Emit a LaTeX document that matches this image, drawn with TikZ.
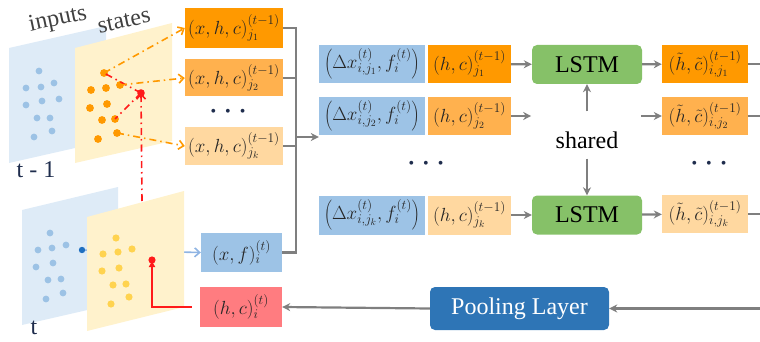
\RequirePackage{fix-cm}
\documentclass[tikz,border=0pt]{standalone}
\usepackage{fontspec}
\setmainfont{Liberation Serif}
\usetikzlibrary{arrows.meta}

\definecolor{orA}{HTML}{FF9900}
\definecolor{orB}{HTML}{FFB14E}
\definecolor{orC}{HTML}{FFD8A0}
\definecolor{blA}{HTML}{9DC3E6}
\definecolor{rdA}{HTML}{FF7C80}
\definecolor{grA}{HTML}{86C168}
\definecolor{poolA}{HTML}{2E75B6}
\definecolor{planeB}{HTML}{DEEBF7}
\definecolor{planeY}{HTML}{FFF2CC}
\definecolor{dotB}{HTML}{9CC2E5}
\definecolor{dotO}{HTML}{FF9900}
\definecolor{dotY}{HTML}{FFD34F}
\definecolor{dotN}{HTML}{1F6FC0}
\definecolor{lineG}{HTML}{7F7F7F}
\definecolor{txtA}{HTML}{262626}
\definecolor{navy}{HTML}{1F2D4D}
\definecolor{lblG}{HTML}{404040}
\definecolor{redA}{HTML}{FF1A1A}
\definecolor{arB}{HTML}{8FB4E3}

\begin{document}
\begin{tikzpicture}[x=1pt,y=-1pt,
  bx/.style={inner sep=0pt, text=txtA, font=\fontsize{19}{19}\selectfont},
  sz/.style 2 args={minimum width=#1pt, minimum height=#2pt},
  lstm/.style={fill=grA, rounded corners=5pt, inner sep=0pt, minimum width=110pt,
    minimum height=39pt, font=\fontsize{24}{24}\selectfont, text=black},
  pool/.style={fill=poolA, rounded corners=5pt, inner sep=0pt, minimum width=179pt,
    minimum height=43pt, font=\fontsize{24}{24}\selectfont, text=white},
  lbl/.style={font=\fontsize{24}{24}\selectfont, text=lblG, inner sep=0pt},
  dots/.style={font=\fontsize{16}{16}\selectfont, text=navy, inner sep=0pt},
  gl/.style={draw=lineG, line width=2.2pt},
  ga/.style={gl, -{Stealth[length=8pt, width=8pt]}},
  odash/.style={draw=orA, line width=1.6pt, dash pattern=on 7pt off 4pt on 1.5pt off 4pt,
    -{Straight Barb[length=5pt, width=9pt]}},
  rdash/.style={draw=redA, line width=1.6pt, dash pattern=on 7pt off 4pt on 1.5pt off 4pt},
  ptB/.style={fill=dotB, draw=none},
  ptO/.style={fill=dotO, draw=none},
  ptY/.style={fill=dotY, draw=none}]

\useasboundingbox (0,0) rectangle (760,342);

% ---------- time step t-1: inputs and states planes ----------
\fill[planeB] (9,48) -- (106,26) -- (106,141) -- (9,163) -- cycle;
\foreach \p in {(39,71),(26,88),(41,87),(54,83),(26,105),(42,101),(59,99),(37,118),(50,118),(34,137),(52,131)}
  \fill[ptB] \p circle (3.4pt);
\fill[planeY] (75,48) -- (172,23) -- (172,141) -- (75,163) -- cycle;
\foreach \p in {(91,90),(106,88),(90,108),(107,104),(102,120),(98,139)}
  \fill[ptO] \p circle (3.9pt);
\coordinate (nA) at (104,73);
\coordinate (nB) at (120,85);
\coordinate (nD) at (115,119);
\coordinate (nC) at (117,133);
\foreach \c in {nA,nB,nD,nC}
  \fill[ptO] (\c) circle (3.9pt);
\coordinate (rq) at (141,93);

\node[lbl, rotate=12] (lin) at (58,20) {inputs};
\node[lbl, rotate=12] (lst) at (124,21) {states};
\node[lbl, text=navy] (ltm) at (36,170) {t - 1};

% ---------- time step t ----------
\fill[planeB] (22,210) -- (118,187) -- (118,303) -- (22,325) -- cycle;
\foreach \p in {(50,233),(38,250),(52,248),(66,245),(36,267),(53,263),(48,280),(61,279),(46,299),(63,293)}
  \fill[ptB] \p circle (3.4pt);
\coordinate (bq) at (82,250);

% ---------- boxes on the left ----------
\node[bx, fill=orA, sz={98}{40}] (p1) at (234,28) {$(x,h,c)^{(t-1)}_{j_1}$};
\node[bx, fill=orB, sz={98}{37}] (p2) at (234,78) {$(x,h,c)^{(t-1)}_{j_2}$};
\node[bx, fill=orC, sz={98}{37}] (pk) at (234,146) {$(x,h,c)^{(t-1)}_{j_k}$};
\node[dots] (pd) at (228,113) {\textbullet\hspace{9pt}\textbullet\hspace{9pt}\textbullet};
\node[bx, fill=blA, sz={81}{39}] (xf) at (241.5,252.5) {$(x,f)^{(t)}_i$};
\node[bx, fill=rdA, sz={82}{40}] (hc) at (241,307) {$(h,c)^{(t)}_i$};

% arrow from the current input to its box, partly hidden by the states plane
\draw[draw=arB, line width=1.6pt, -{Straight Barb[length=5pt, width=9pt]}] (bq) -- (xf.west);
\fill[dotN] (bq) circle (3.2pt);

\fill[planeY] (87,217) -- (184,191) -- (184,307) -- (87,331) -- cycle;
\foreach \p in {(116,238),(103,254),(118,252),(132,249),(102,271),(119,268),(113,285),(126,284),(111,304),(129,297)}
  \fill[ptY] \p circle (3.6pt);
\coordinate (rb) at (152,260);
\coordinate (rs) at (142,201);
\node[lbl, text=navy] (lt) at (34,328) {t};

% neighbour selection at t-1
\draw[rdash] (rq) -- (nA);
\draw[rdash] (rq) -- (nD);
\draw[rdash, -{Straight Barb[length=5pt, width=9pt]}] (rs) -- (rq);
\fill[redA] (rq) circle (3.8pt);
\draw[odash] (nA) -- (p1.west);
\draw[odash] (nB) -- (p2.west);
\draw[odash] (nC) -- (pk.west);

% new hidden state fed back to the agent at t
\draw[draw=redA, line width=2pt, -{Latex[length=7pt, width=7pt]}]
  ([xshift=-8pt]hc.west) -| (rb);
\fill[redA] (rb) circle (3.6pt);

% ---------- gathering bus ----------
\coordinate (bus) at (296,0);
\coordinate (jn) at (296,137);
\coordinate (edge) at (760,0);

% ---------- middle rows ----------
\node[bx, fill=blA, sz={106}{38}] (d1) at (372,64) {$\left(\Delta x^{(t)}_{i,j_1}, f^{(t)}_i\right)$};
\node[bx, fill=orA, sz={83}{38}] (s1) at (469.5,64) {$(h,c)^{(t-1)}_{j_1}$};
\node[bx, fill=blA, sz={106}{38}] (d2) at (372,116) {$\left(\Delta x^{(t)}_{i,j_2}, f^{(t)}_i\right)$};
\node[bx, fill=orB, sz={83}{38}] (s2) at (469.5,116) {$(h,c)^{(t-1)}_{j_2}$};
\node[bx, fill=blA, sz={106}{39}] (dk) at (372,215) {$\left(\Delta x^{(t)}_{i,j_k}, f^{(t)}_i\right)$};
\node[bx, fill=orC, sz={83}{39}] (sk) at (469.5,215) {$(h,c)^{(t-1)}_{j_k}$};
\node[dots] (md) at (426,165) {\textbullet\hspace{9pt}\textbullet\hspace{9pt}\textbullet};

\node[lstm] (L1) at (587,64.5) {LSTM};
\node[lstm] (L2) at (587,215) {LSTM};
\node[lbl, text=black] (sh) at (587,140) {shared};

\node[bx, fill=orA, sz={86}{38}] (r1) at (705,64) {$(\tilde h,\tilde c)^{(t-1)}_{i,j_1}$};
\node[bx, fill=orB, sz={86}{38}] (r2) at (705,116) {$(\tilde h,\tilde c)^{(t-1)}_{i,j_2}$};
\node[bx, fill=orC, sz={86}{38}] (rk) at (705,214) {$(\tilde h,\tilde c)^{(t-1)}_{i,j_k}$};
\node[dots] (rd) at (709,165) {\textbullet\hspace{9pt}\textbullet\hspace{9pt}\textbullet};

\node[pool] (pl) at (519.5,308.5) {Pooling Layer};

% ---------- connectors ----------
\draw[gl, line join=miter] (p1.east) -- (p1.east -| bus) -- (xf.east -| bus) -- (xf.east);
\draw[gl] (p2.east) -- (p2.east -| bus);
\draw[gl] (pk.east) -- (pk.east -| bus);
\draw[ga] (jn) -- (jn -| d2.west);

\draw[ga] (s1) -- (L1);
\draw[ga] (L1) -- (r1);
\draw[ga] (s2.east) -- ([xshift=20pt]s2.east);
\draw[ga] ([xshift=-21pt]r2.west) -- (r2.west);
\draw[ga] (sk) -- (L2);
\draw[ga] (L2) -- (rk);
\draw[ga, shorten <=20pt] (sh.north) -- (L1.south);
\draw[ga, shorten <=10pt] (sh.south) -- (L2.north);

\draw[gl] (r1.east) -- (r1.east -| edge);
\draw[gl] (r2.east) -- (r2.east -| edge);
\draw[gl] (rk.east) -- (rk.east -| edge);

\draw[ga] (pl.east -| edge) -- (pl.east);
\draw[ga] (pl.west) -- (hc.east);
\end{tikzpicture}
\end{document}
